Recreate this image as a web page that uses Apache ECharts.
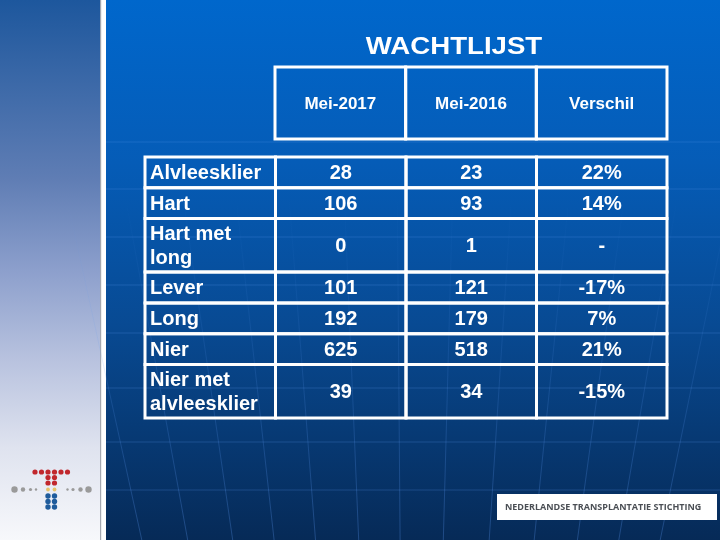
<!DOCTYPE html>
<html><head><meta charset="utf-8">
<script src="https://cdn.jsdelivr.net/npm/echarts@6/dist/echarts.min.js"></script>
<style>html,body{margin:0;padding:0;background:#fff}#c{width:720px;height:540px}</style>
</head><body><div id="c"></div>
<script>
const title = 'WACHTLIJST';
const headers = ['Mei-2017', 'Mei-2016', 'Verschil'];
const organs = ['Alvleesklier', 'Hart', 'Hart met\nlong', 'Lever', 'Long', 'Nier', 'Nier met\nalvleesklier'];
const mei2017 = [28, 106, 0, 101, 192, 625, 39];
const mei2016 = [23, 93, 1, 121, 179, 518, 34];
const verschil = ['22%', '14%', '-', '-17%', '7%', '21%', '-15%'];
const footer = 'NEDERLANDSE TRANSPLANTATIE STICHTING';

// row extents in "line units" (taller rows for two-line labels)
const PAD = 0.35;
const rowStart = [], rowEnd = [];
let acc = 0;
organs.forEach(o => { const n = o.split('\n').length; rowStart.push(acc); acc += n + PAD; rowEnd.push(acc); });
const total = acc;

const bodyData = [];
organs.forEach((o, i) => {
  [o, String(mei2017[i]), String(mei2016[i]), verschil[i]].forEach((t, c) =>
    bodyData.push({ value: [c, rowStart[i], rowEnd[i]], text: t }));
});
const headData = headers.map((h, c) => ({ value: [c, 0, 1], text: h }));

const FONT = '"Liberation Sans", Arial, sans-serif';

function makeRender(data, font, padLeft) {
  return function (params, api) {
    const c = api.value(0), y0 = api.value(1), y1 = api.value(2);
    const p0 = api.coord([c, y0]), p1 = api.coord([c + 1, y1]);
    const x = p0[0], y = Math.min(p0[1], p1[1]);
    const w = p1[0] - p0[0], h = Math.abs(p1[1] - p0[1]);
    const t = data[params.dataIndex].text;
    const left = padLeft && c === 0;
    return {
      type: 'group', children: [
        { type: 'rect', shape: { x, y, width: w, height: h }, style: { fill: 'none', stroke: '#ffffff', lineWidth: 3 } },
        { type: 'text', style: { text: t, x: left ? x + 5 : x + w / 2, y: y + h / 2 + 1, align: left ? 'left' : 'center', verticalAlign: 'middle', fill: '#ffffff', font: font, lineHeight: 24 } }
      ]
    };
  };
}

// logo dots
const logo = [];
[35, 41.5, 48, 54.5, 61, 67.5].forEach(x => logo.push([x, 472, 2.6, '#c1272d']));
[477.5, 483].forEach(y => [48, 54.5].forEach(x => logo.push([x, y, 2.6, '#c1272d'])));
[[14.5, 3.2], [23, 2.2], [30.5, 1.6], [36, 1.2], [67.5, 1.2], [73, 1.6], [80.5, 2.2], [88.5, 3.2]].forEach(d => logo.push([d[0], 489.5, d[1], '#9a9a9a']));
[48, 54.5].forEach(x => logo.push([x, 489.5, 1.9, '#e7c36a']));
[496, 501.5, 507].forEach(y => [48, 54.5].forEach(x => logo.push([x, y, 2.7, '#1f5c9c'])));

const fade = { type: 'linear', x: 0, y: 0, x2: 0, y2: 1, colorStops: [{ offset: 0, color: 'rgba(90,150,240,0)' }, { offset: 1, color: 'rgba(90,150,240,0.3)' }] };
const bgLines = [];
[142, 189, 237, 285, 333, 388, 442, 490].forEach(y => bgLines.push({ type: 'line', shape: { x1: 106, y1: y, x2: 720, y2: y }, style: { stroke: 'rgba(90,150,240,0.25)', lineWidth: 1 }, silent: true }));
[112, 163, 213, 259, 305, 353, 399, 447, 498, 548, 596, 642, 688].forEach(xt => {
  const cx = 410;
  bgLines.push({ type: 'line', shape: { x1: cx + (xt - cx) * 1.15, y1: 200, x2: cx + (xt - cx) * 0.9, y2: 540 }, style: { stroke: fade, lineWidth: 1 }, silent: true });
});

const chart = echarts.init(document.getElementById('c'), null, { renderer: 'canvas' });
chart.setOption({
  animation: false,
  backgroundColor: '#ffffff',
  graphic: [
    { type: 'rect', shape: { x: 0, y: 0, width: 100, height: 540 }, style: { fill: { type: 'linear', x: 0, y: 0, x2: 0, y2: 1, colorStops: [
      { offset: 0, color: '#1d579d' }, { offset: 0.33, color: '#5f7db4' }, { offset: 0.5, color: '#8c9fcc' },
      { offset: 0.67, color: '#b9c3df' }, { offset: 0.83, color: '#dfe3ef' }, { offset: 1, color: '#f7f8fb' }] } }, silent: true },
    { type: 'rect', shape: { x: 100, y: 0, width: 1.2, height: 540 }, style: { fill: '#a4a8b0' }, silent: true },
    { type: 'rect', shape: { x: 106, y: 0, width: 614, height: 540 }, style: { fill: { type: 'linear', x: 0, y: 0, x2: 0, y2: 1, colorStops: [
      { offset: 0, color: '#0067cc' }, { offset: 0.3, color: '#055cb7' }, { offset: 0.6, color: '#084a93' }, { offset: 1, color: '#062a57' }] } }, silent: true },
    ...bgLines,
    ...logo.map(d => ({ type: 'circle', shape: { cx: d[0], cy: d[1], r: d[2] }, style: { fill: d[3] }, silent: true })),
    { type: 'rect', shape: { x: 497, y: 494, width: 220, height: 26 }, style: { fill: '#ffffff' }, silent: true },
    { type: 'text', x: 505, y: 507.5, scaleX: 1.0, style: { text: footer, x: 0, y: 0, align: 'left', verticalAlign: 'middle', fill: '#4b4f55', font: 'bold 9px "Open Sans", sans-serif' }, silent: true },
    { type: 'text', x: 454, y: 47, scaleX: 1.15, style: { text: title, x: 0, y: 0, align: 'center', verticalAlign: 'middle', fill: '#ffffff', font: 'bold 24px ' + FONT }, silent: true }
  ],
  grid: [
    { left: 145, top: 157, width: 522, height: 261 },
    { left: 275, top: 67, width: 392, height: 72 }
  ],
  xAxis: [
    { type: 'value', gridIndex: 0, min: 0, max: 4, show: false },
    { type: 'value', gridIndex: 1, min: 0, max: 3, show: false }
  ],
  yAxis: [
    { type: 'value', gridIndex: 0, min: 0, max: total, inverse: true, show: false },
    { type: 'value', gridIndex: 1, min: 0, max: 1, inverse: true, show: false }
  ],
  series: [
    { type: 'custom', xAxisIndex: 0, yAxisIndex: 0, z: 5, renderItem: makeRender(bodyData, 'bold 20px ' + FONT, true), data: bodyData.map(d => d.value), clip: false },
    { type: 'custom', xAxisIndex: 1, yAxisIndex: 1, z: 5, renderItem: makeRender(headData, 'bold 17px ' + FONT, false), data: headData.map(d => d.value), clip: false }
  ]
});
</script>
</body></html>
